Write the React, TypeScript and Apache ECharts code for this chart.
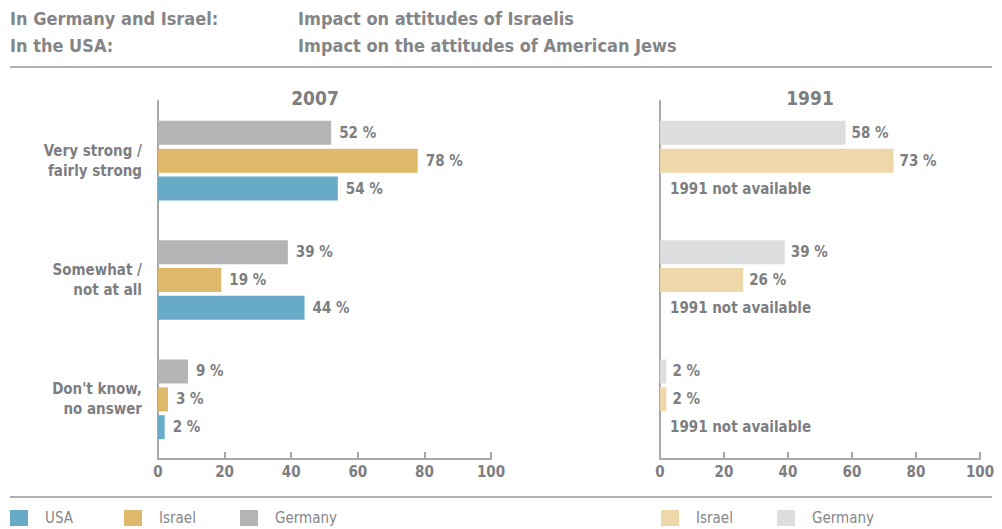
import React, { useEffect, useRef } from "react";
import * as echarts from "echarts";

const categories = ["Very strong /\nfairly strong", "Somewhat /\nnot at all", "Don't know,\nno answer"];
const usa2007 = [54, 44, 2];
const israel2007 = [78, 19, 3];
const germany2007 = [52, 39, 9];
const israel1991 = [73, 26, 2];
const germany1991 = [58, 39, 2];
const usa1991 = [0, 0, 0];
const xTicks = [0, 20, 40, 60, 80, 100];

const FONT = "'Liberation Sans Narrow', 'DejaVu Sans Condensed', 'Arial Narrow', sans-serif";
const TXT = "#7d7e81";
const AX = "#a7a8aa";
const C_USA = "#67abc8";
const C_ISR = "#dfb96b";
const C_GER = "#b3b4b6";
const C_ISR_L = "#eed8aa";
const C_GER_L = "#dcdddf";

export default function App() {
  const ref = useRef<HTMLDivElement>(null);
  useEffect(() => {
    if (!ref.current) return;
    const chart = echarts.init(ref.current, null, { renderer: "svg" });
    const xAxisBase = (gi: number) => ({
      type: "value",
      gridIndex: gi,
      min: xTicks[0],
      max: xTicks[xTicks.length - 1],
      interval: 20,
      splitLine: { show: false },
      axisLine: { show: true, lineStyle: { color: AX, width: 2 } },
      axisTick: { show: true, inside: true, length: 7, lineStyle: { color: AX, width: 2 } },
      axisLabel: { color: TXT, fontFamily: FONT, fontSize: 15, fontWeight: "bold", margin: 5 },
    });
    const yAxisBase = (gi: number, showLabels: boolean) => ({
      type: "category",
      gridIndex: gi,
      inverse: true,
      data: categories,
      axisLine: { show: true, lineStyle: { color: AX, width: 2 } },
      axisTick: { show: false },
      axisLabel: {
        show: showLabels,
        color: TXT,
        fontFamily: FONT,
        fontSize: 15,
        fontWeight: "bold",
        lineHeight: 20,
        align: "right",
        margin: 16,
      },
    });
    const lbl = (dist: number) => ({
      show: true,
      position: "right",
      distance: dist,
      formatter: "{c} %",
      color: TXT,
      fontFamily: FONT,
      fontSize: 15,
      fontWeight: "bold",
    });
    const bar = (name: string, data: number[], color: string, gi: number, label: any) => ({
      type: "bar",
      name,
      data,
      xAxisIndex: gi,
      yAxisIndex: gi,
      barWidth: 24,
      barGap: "16%",
      itemStyle: { color },
      label,
    });
    const legendItem = (x: number, color: string, text: string) => [
      { type: "rect", shape: { x, y: 510, width: 18, height: 16 }, style: { fill: color } },
      {
        type: "text",
        x: x + 35,
        y: 518,
        style: { text, fill: "#85868a", font: `15px ${FONT}`, verticalAlign: "middle" },
      },
    ];
    const headerText = (x: number, y: number, text: string) => ({
      type: "text",
      x,
      y,
      style: { text, fill: "#848587", font: `600 18px ${FONT}`, verticalAlign: "middle" },
    });
    chart.setOption({
      animation: false,
      grid: [
        { left: 158, top: 101, width: 333, height: 358 },
        { left: 660, top: 101, width: 320, height: 358 },
      ],
      title: [
        {
          text: "2007",
          left: 310,
          top: 83,
          textAlign: "center",
          textStyle: { color: TXT, fontFamily: FONT, fontSize: 19, fontWeight: "bold" },
        },
        {
          text: "1991",
          left: 805,
          top: 83,
          textAlign: "center",
          textStyle: { color: TXT, fontFamily: FONT, fontSize: 19, fontWeight: "bold" },
        },
      ],
      xAxis: [xAxisBase(0), xAxisBase(1)],
      yAxis: [yAxisBase(0, true), yAxisBase(1, false)],
      series: [
        bar("Germany", germany2007, C_GER, 0, lbl(8)),
        bar("Israel", israel2007, C_ISR, 0, lbl(8)),
        bar("USA", usa2007, C_USA, 0, lbl(8)),
        bar("Germany 1991", germany1991, C_GER_L, 1, lbl(6)),
        bar("Israel 1991", israel1991, C_ISR_L, 1, lbl(6)),
        bar("USA 1991", usa1991, C_USA, 1, { ...lbl(10), formatter: "1991 not available" }),
      ],
      graphic: [
        headerText(10, 18, "In Germany and Israel:"),
        headerText(10, 45, "In the USA:"),
        headerText(298, 18, "Impact on attitudes of Israelis"),
        headerText(298, 45, "Impact on the attitudes of American Jews"),
        { type: "line", shape: { x1: 10, y1: 67, x2: 992, y2: 67 }, style: { stroke: "#b0b1b3", lineWidth: 2 } },
        { type: "line", shape: { x1: 10, y1: 497, x2: 992, y2: 497 }, style: { stroke: "#b0b1b3", lineWidth: 2 } },
        ...legendItem(10, C_USA, "USA"),
        ...legendItem(124, C_ISR, "Israel"),
        ...legendItem(240, C_GER, "Germany"),
        ...legendItem(661, C_ISR_L, "Israel"),
        ...legendItem(777, C_GER_L, "Germany"),
      ],
    });
    return () => chart.dispose();
  }, []);
  return <div ref={ref} style={{ width: 1002, height: 529, position: "absolute", left: 0, top: 0 }} />;
}
